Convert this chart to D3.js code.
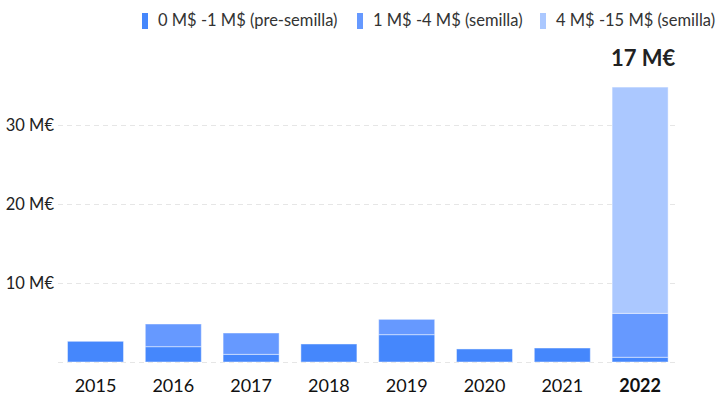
<!DOCTYPE html>
<html>
<head>
<meta charset="utf-8">
<script src="https://cdn.jsdelivr.net/npm/d3@7/dist/d3.min.js"></script>
<style>
  html, body { margin: 0; padding: 0; background: #fff; }
  svg { display: block; font-family: Lato, "Open Sans", sans-serif; }
</style>
</head>
<body>
<svg id="chart" width="718" height="396"></svg>
<script>
// Funding volume per year, split by round size (millions)
const years = ["2015", "2016", "2017", "2018", "2019", "2020", "2021", "2022"];
const seriesNames = ["0 M$ -1 M$ (pre-semilla)", "1 M$ -4 M$ (semilla)", "4 M$ -15 M$ (semilla)"];
const preSeed = [2.62, 1.94, 0.97, 2.28, 3.46, 1.65, 1.77, 0.60];
const seed = [0, 2.87, 2.70, 0, 1.94, 0, 0, 5.56];
const seedLarge = [0, 0, 0, 0, 0, 0, 0, 28.64];
const yTicks = [10, 20, 30];
const highlightYear = "2022";
const highlightLabel = "17 M€";

const colors = ["#4587fc", "#6699ff", "#abc8ff"];

const svg = d3.select("#chart");
const W = 718;
const gridLeft = 58, gridRight = 676;

const x = d3.scaleBand().domain(years).range([56.6, 679]).paddingInner(0.28).paddingOuter(0.14);
const y = d3.scaleLinear().domain([0, 35]).range([362, 362 - 79 * 3.5]);

const rows = years.map((yr, i) => ({ year: yr, s0: preSeed[i], s1: seed[i], s2: seedLarge[i] }));
const stacked = d3.stack().keys(["s0", "s1", "s2"])(rows);

// gridlines
svg.append("g").selectAll("line").data([0, ...yTicks]).join("line")
  .attr("x1", gridLeft).attr("x2", gridRight)
  .attr("y1", d => y(d) + 0.5).attr("y2", d => y(d) + 0.5)
  .attr("stroke", "#e6e6e6").attr("stroke-width", 1)
  .attr("stroke-dasharray", "5,4");

// y axis labels
const yAxis = d3.axisLeft(y).tickValues(yTicks).tickSize(0).tickPadding(0).tickFormat(d => d + " M€");
svg.append("g").attr("transform", `translate(${gridLeft - 4},0)`).call(yAxis)
  .call(g => g.select(".domain").remove())
  .call(g => g.selectAll("text").attr("fill", "#222").attr("font-size", 16.5).attr("font-family", "Lato, sans-serif"));

// stacked bars
svg.append("g").selectAll("g").data(stacked).join("g")
  .attr("fill", (d, i) => colors[i])
  .selectAll("rect").data(d => d.filter(s => s[1] - s[0] > 0)).join("rect")
  .attr("x", d => x(d.data.year))
  .attr("width", x.bandwidth())
  .attr("y", d => y(d[1]))
  .attr("height", d => y(d[0]) - y(d[1]))
  .attr("stroke", "rgba(255,255,255,0.45)")
  .attr("stroke-width", 1);

// x axis labels
const xAxis = d3.axisBottom(x).tickSize(0).tickPadding(0);
svg.append("g").attr("transform", "translate(0,379)").call(xAxis)
  .call(g => g.select(".domain").remove())
  .call(g => g.selectAll("text")
    .attr("fill", "#111").attr("font-size", 18).attr("font-family", "Lato, sans-serif")
    .attr("font-weight", d => d === highlightYear ? "bold" : "normal"));

// annotation above the highlighted year
svg.append("text")
  .attr("x", x(highlightYear) + x.bandwidth() / 2 + 3)
  .attr("y", 66)
  .attr("text-anchor", "middle")
  .attr("font-size", 22).attr("font-weight", "bold").attr("fill", "#222")
  .text(highlightLabel);

// legend
const legendX = [142, 357, 540];
const legend = svg.append("g").selectAll("g").data(seriesNames).join("g")
  .attr("transform", (d, i) => `translate(${legendX[i]},13)`);
legend.append("rect").attr("width", 6).attr("height", 16).attr("fill", (d, i) => colors[i]);
legend.append("text").attr("x", 16).attr("y", 13)
  .attr("font-size", 16.5).attr("fill", "#333").text(d => d);
</script>
</body>
</html>
